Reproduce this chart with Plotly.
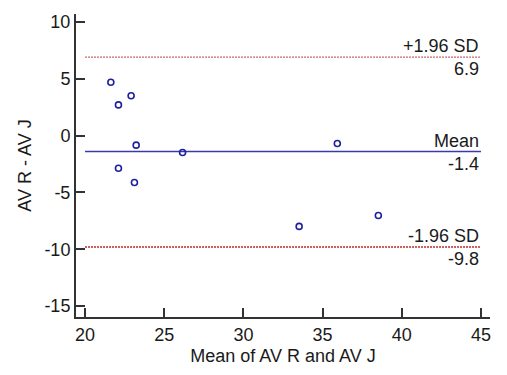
import plotly.graph_objects as go

# Mean of the two methods (x) and their difference (y)
mean_vals = [21.63, 22.11, 22.91, 23.23, 26.16, 22.11, 23.12, 35.93, 33.52, 38.52]
diff_vals = [4.70, 2.70, 3.51, -0.84, -1.48, -2.87, -4.12, -0.70, -7.99, -7.03]

# Bias and limits of agreement
bias = -1.4
upper_loa = 6.9
lower_loa = -9.8
line_x = [20, 45]

x_ticks = [20, 25, 30, 35, 40, 45]
y_ticks = [10, 5, 0, -5, -10, -15]

FONT = "Liberation Sans, Arial, sans-serif"
TXT = "#1a1a1a"
FS = 18

fig = go.Figure()

fig.add_trace(go.Scatter(
    x=line_x, y=[upper_loa, upper_loa], mode="lines",
    line=dict(color="#c46a6a", width=1.3, dash="2px,1px"), hoverinfo="skip"))
fig.add_trace(go.Scatter(
    x=line_x, y=[lower_loa, lower_loa], mode="lines",
    line=dict(color="#c02828", width=1.3, dash="2px,1px"), hoverinfo="skip"))
fig.add_trace(go.Scatter(
    x=line_x, y=[bias, bias], mode="lines",
    line=dict(color="#3a3aa8", width=1.5), hoverinfo="skip"))

fig.add_trace(go.Scatter(
    x=mean_vals, y=diff_vals, mode="markers",
    marker=dict(symbol="circle-open", size=6, color="#1f1f9e",
                line=dict(width=1.6, color="#1f1f9e"))))

labels = [("+1.96 SD", f"{upper_loa:.1f}", upper_loa),
          ("Mean", f"{bias:.1f}", bias),
          ("-1.96 SD", f"{lower_loa:.1f}", lower_loa)]
for top, bottom, yv in labels:
    fig.add_annotation(x=45, y=yv, text=top, showarrow=False,
                       xanchor="right", yanchor="bottom", yshift=-1,
                       font=dict(family=FONT, size=FS, color=TXT))
    fig.add_annotation(x=45, y=yv, text=bottom, showarrow=False,
                       xanchor="right", yanchor="top", yshift=0,
                       font=dict(family=FONT, size=FS, color=TXT))

fig.update_layout(
    width=507, height=375,
    margin=dict(l=76, r=17, t=14, b=55),
    paper_bgcolor="white", plot_bgcolor="white",
    showlegend=False,
    font=dict(family=FONT, size=FS, color=TXT),
    xaxis=dict(
        range=[19.43, 45.57], showgrid=False, zeroline=False,
        showline=True, linecolor="#333333", linewidth=2,
        ticks="inside", ticklen=9, tickwidth=1.5, tickcolor="#333333",
        tickvals=x_ticks, ticktext=[str(v) for v in x_ticks],
        tickfont=dict(family=FONT, size=FS, color=TXT),
        title=dict(text="Mean of AV R and AV J", standoff=6,
                   font=dict(family=FONT, size=FS, color=TXT)),
    ),
    yaxis=dict(
        range=[-15.96, 10.7], showgrid=False, zeroline=False,
        showline=True, linecolor="#333333", linewidth=2,
        ticks="inside", ticklen=9, tickwidth=1.5, tickcolor="#333333",
        tickvals=y_ticks, ticktext=[str(v) for v in y_ticks],
        tickfont=dict(family=FONT, size=FS, color=TXT),
        title=dict(text="AV R - AV J", standoff=8,
                   font=dict(family=FONT, size=FS, color=TXT)),
    ),
)

fig.write_html("out.html")
